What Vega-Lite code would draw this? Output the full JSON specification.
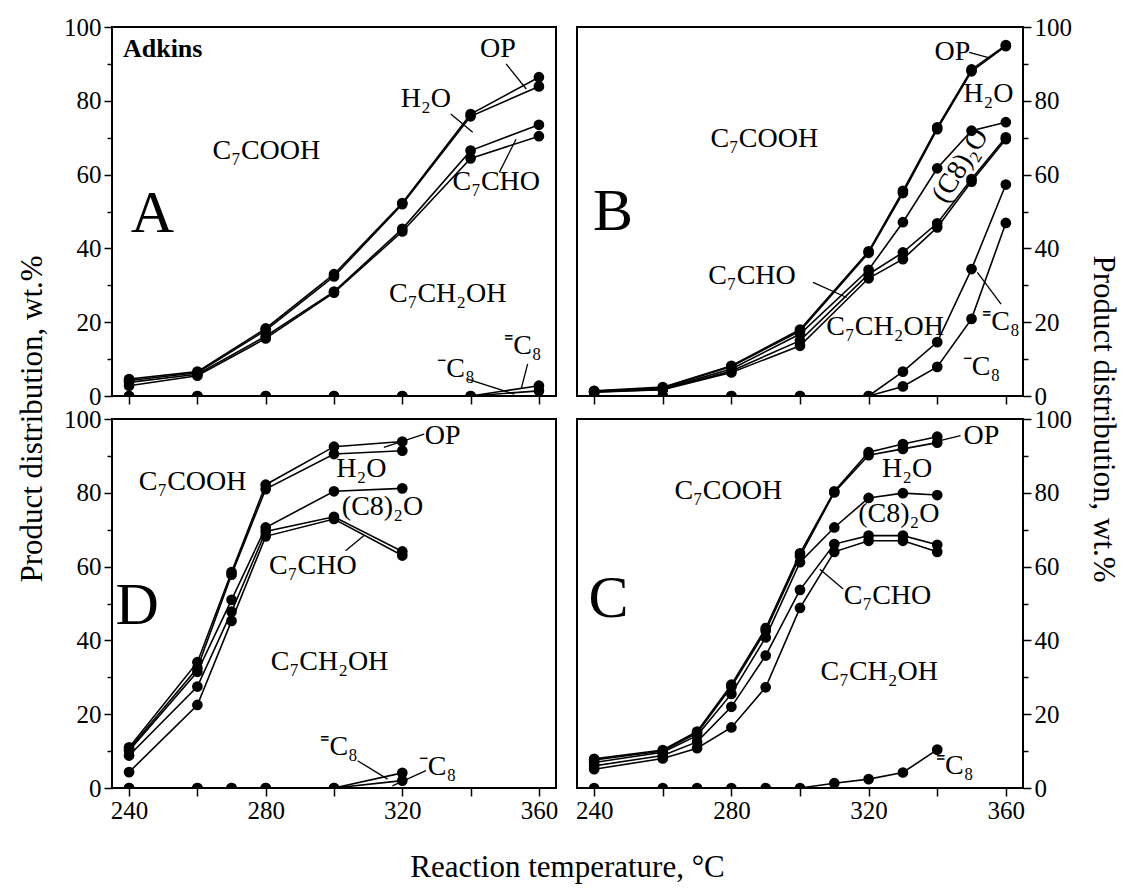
{
  "$schema": "https://vega.github.io/schema/vega-lite/v6.json",
  "padding": {"left": 16, "top": 14, "right": 5, "bottom": 5},
  "background": "white",
  "config": {
    "view": {"stroke": "black", "strokeWidth": 2},
    "font": "Liberation Serif",
    "axis": {
      "domain": false,
      "grid": false,
      "ticks": true,
      "tickColor": "black",
      "tickWidth": 1.5,
      "tickSize": 8,
      "labelFont": "Liberation Serif",
      "labelFontSize": 25,
      "labelColor": "black",
      "labelPadding": 3,
      "title": null
    },
    "title": {"font": "Liberation Serif", "fontSize": 31, "fontWeight": "normal", "color": "black"}
  },
  "datasets": {
    "lines": [
      {"p": "A", "s": "OP", "t": 240, "v": 4.6}, {"p": "A", "s": "OP", "t": 260, "v": 6.6}, {"p": "A", "s": "OP", "t": 280, "v": 18.3}, {"p": "A", "s": "OP", "t": 300, "v": 33.0}, {"p": "A", "s": "OP", "t": 320, "v": 52.3}, {"p": "A", "s": "OP", "t": 340, "v": 76.4}, {"p": "A", "s": "OP", "t": 360, "v": 86.4},
      {"p": "A", "s": "H2O", "t": 240, "v": 4.2}, {"p": "A", "s": "H2O", "t": 260, "v": 6.3}, {"p": "A", "s": "H2O", "t": 280, "v": 17.8}, {"p": "A", "s": "H2O", "t": 300, "v": 32.4}, {"p": "A", "s": "H2O", "t": 320, "v": 52.0}, {"p": "A", "s": "H2O", "t": 340, "v": 75.8}, {"p": "A", "s": "H2O", "t": 360, "v": 83.9},
      {"p": "A", "s": "C7CHO", "t": 240, "v": 3.7}, {"p": "A", "s": "C7CHO", "t": 260, "v": 5.9}, {"p": "A", "s": "C7CHO", "t": 280, "v": 16.2}, {"p": "A", "s": "C7CHO", "t": 300, "v": 28.3}, {"p": "A", "s": "C7CHO", "t": 320, "v": 45.3}, {"p": "A", "s": "C7CHO", "t": 340, "v": 66.5}, {"p": "A", "s": "C7CHO", "t": 360, "v": 73.5},
      {"p": "A", "s": "C7CH2OH", "t": 240, "v": 2.8}, {"p": "A", "s": "C7CH2OH", "t": 260, "v": 5.5}, {"p": "A", "s": "C7CH2OH", "t": 280, "v": 15.6}, {"p": "A", "s": "C7CH2OH", "t": 300, "v": 28.0}, {"p": "A", "s": "C7CH2OH", "t": 320, "v": 44.6}, {"p": "A", "s": "C7CH2OH", "t": 340, "v": 64.4}, {"p": "A", "s": "C7CH2OH", "t": 360, "v": 70.4},
      {"p": "A", "s": "=C8", "t": 240, "v": 0}, {"p": "A", "s": "=C8", "t": 260, "v": 0}, {"p": "A", "s": "=C8", "t": 280, "v": 0}, {"p": "A", "s": "=C8", "t": 300, "v": 0}, {"p": "A", "s": "=C8", "t": 320, "v": 0}, {"p": "A", "s": "=C8", "t": 340, "v": 0}, {"p": "A", "s": "=C8", "t": 360, "v": 2.8},
      {"p": "A", "s": "-C8", "t": 240, "v": 0}, {"p": "A", "s": "-C8", "t": 260, "v": 0}, {"p": "A", "s": "-C8", "t": 280, "v": 0}, {"p": "A", "s": "-C8", "t": 300, "v": 0}, {"p": "A", "s": "-C8", "t": 320, "v": 0}, {"p": "A", "s": "-C8", "t": 340, "v": 0}, {"p": "A", "s": "-C8", "t": 360, "v": 1.4},

      {"p": "B", "s": "OP", "t": 240, "v": 1.4}, {"p": "B", "s": "OP", "t": 260, "v": 2.4}, {"p": "B", "s": "OP", "t": 280, "v": 8.2}, {"p": "B", "s": "OP", "t": 300, "v": 18.0}, {"p": "B", "s": "OP", "t": 320, "v": 39.2}, {"p": "B", "s": "OP", "t": 330, "v": 55.6}, {"p": "B", "s": "OP", "t": 340, "v": 72.8}, {"p": "B", "s": "OP", "t": 350, "v": 88.5}, {"p": "B", "s": "OP", "t": 360, "v": 95.1},
      {"p": "B", "s": "H2O", "t": 240, "v": 1.3}, {"p": "B", "s": "H2O", "t": 260, "v": 2.2}, {"p": "B", "s": "H2O", "t": 280, "v": 8.0}, {"p": "B", "s": "H2O", "t": 300, "v": 17.6}, {"p": "B", "s": "H2O", "t": 320, "v": 38.8}, {"p": "B", "s": "H2O", "t": 330, "v": 55.0}, {"p": "B", "s": "H2O", "t": 340, "v": 72.3}, {"p": "B", "s": "H2O", "t": 350, "v": 88.0}, {"p": "B", "s": "H2O", "t": 360, "v": 94.8},
      {"p": "B", "s": "(C8)2O", "t": 240, "v": 1.2}, {"p": "B", "s": "(C8)2O", "t": 260, "v": 2.0}, {"p": "B", "s": "(C8)2O", "t": 280, "v": 7.3}, {"p": "B", "s": "(C8)2O", "t": 300, "v": 16.8}, {"p": "B", "s": "(C8)2O", "t": 320, "v": 34.2}, {"p": "B", "s": "(C8)2O", "t": 330, "v": 47.1}, {"p": "B", "s": "(C8)2O", "t": 340, "v": 61.7}, {"p": "B", "s": "(C8)2O", "t": 350, "v": 71.9}, {"p": "B", "s": "(C8)2O", "t": 360, "v": 74.2},
      {"p": "B", "s": "C7CHO", "t": 240, "v": 1.1}, {"p": "B", "s": "C7CHO", "t": 260, "v": 1.8}, {"p": "B", "s": "C7CHO", "t": 280, "v": 6.8}, {"p": "B", "s": "C7CHO", "t": 300, "v": 15.0}, {"p": "B", "s": "C7CHO", "t": 320, "v": 33.0}, {"p": "B", "s": "C7CHO", "t": 330, "v": 38.9}, {"p": "B", "s": "C7CHO", "t": 340, "v": 46.8}, {"p": "B", "s": "C7CHO", "t": 350, "v": 58.8}, {"p": "B", "s": "C7CHO", "t": 360, "v": 70.1},
      {"p": "B", "s": "C7CH2OH", "t": 240, "v": 1.0}, {"p": "B", "s": "C7CH2OH", "t": 260, "v": 1.7}, {"p": "B", "s": "C7CH2OH", "t": 280, "v": 6.4}, {"p": "B", "s": "C7CH2OH", "t": 300, "v": 13.6}, {"p": "B", "s": "C7CH2OH", "t": 320, "v": 31.9}, {"p": "B", "s": "C7CH2OH", "t": 330, "v": 37.1}, {"p": "B", "s": "C7CH2OH", "t": 340, "v": 45.7}, {"p": "B", "s": "C7CH2OH", "t": 350, "v": 58.1}, {"p": "B", "s": "C7CH2OH", "t": 360, "v": 69.6},
      {"p": "B", "s": "=C8", "t": 240, "v": 0}, {"p": "B", "s": "=C8", "t": 260, "v": 0}, {"p": "B", "s": "=C8", "t": 280, "v": 0}, {"p": "B", "s": "=C8", "t": 300, "v": 0}, {"p": "B", "s": "=C8", "t": 320, "v": 0}, {"p": "B", "s": "=C8", "t": 330, "v": 6.6}, {"p": "B", "s": "=C8", "t": 340, "v": 14.6}, {"p": "B", "s": "=C8", "t": 350, "v": 34.4}, {"p": "B", "s": "=C8", "t": 360, "v": 57.3},
      {"p": "B", "s": "-C8", "t": 240, "v": 0}, {"p": "B", "s": "-C8", "t": 260, "v": 0}, {"p": "B", "s": "-C8", "t": 280, "v": 0}, {"p": "B", "s": "-C8", "t": 300, "v": 0}, {"p": "B", "s": "-C8", "t": 320, "v": 0}, {"p": "B", "s": "-C8", "t": 330, "v": 2.6}, {"p": "B", "s": "-C8", "t": 340, "v": 7.9}, {"p": "B", "s": "-C8", "t": 350, "v": 20.9}, {"p": "B", "s": "-C8", "t": 360, "v": 46.9},

      {"p": "D", "s": "OP", "t": 240, "v": 11.0}, {"p": "D", "s": "OP", "t": 260, "v": 34.1}, {"p": "D", "s": "OP", "t": 270, "v": 58.5}, {"p": "D", "s": "OP", "t": 280, "v": 82.2}, {"p": "D", "s": "OP", "t": 300, "v": 92.5}, {"p": "D", "s": "OP", "t": 320, "v": 93.9},
      {"p": "D", "s": "H2O", "t": 240, "v": 10.5}, {"p": "D", "s": "H2O", "t": 260, "v": 32.5}, {"p": "D", "s": "H2O", "t": 270, "v": 57.8}, {"p": "D", "s": "H2O", "t": 280, "v": 81.0}, {"p": "D", "s": "H2O", "t": 300, "v": 90.5}, {"p": "D", "s": "H2O", "t": 320, "v": 91.4},
      {"p": "D", "s": "(C8)2O", "t": 240, "v": 10.1}, {"p": "D", "s": "(C8)2O", "t": 260, "v": 31.5}, {"p": "D", "s": "(C8)2O", "t": 270, "v": 51.0}, {"p": "D", "s": "(C8)2O", "t": 280, "v": 70.6}, {"p": "D", "s": "(C8)2O", "t": 300, "v": 80.4}, {"p": "D", "s": "(C8)2O", "t": 320, "v": 81.2},
      {"p": "D", "s": "C7CHO", "t": 240, "v": 8.8}, {"p": "D", "s": "C7CHO", "t": 260, "v": 27.5}, {"p": "D", "s": "C7CHO", "t": 270, "v": 47.8}, {"p": "D", "s": "C7CHO", "t": 280, "v": 69.5}, {"p": "D", "s": "C7CHO", "t": 300, "v": 73.5}, {"p": "D", "s": "C7CHO", "t": 320, "v": 64.1},
      {"p": "D", "s": "C7CH2OH", "t": 240, "v": 4.3}, {"p": "D", "s": "C7CH2OH", "t": 260, "v": 22.5}, {"p": "D", "s": "C7CH2OH", "t": 270, "v": 45.3}, {"p": "D", "s": "C7CH2OH", "t": 280, "v": 68.2}, {"p": "D", "s": "C7CH2OH", "t": 300, "v": 72.9}, {"p": "D", "s": "C7CH2OH", "t": 320, "v": 63.0},
      {"p": "D", "s": "=C8", "t": 240, "v": 0}, {"p": "D", "s": "=C8", "t": 260, "v": 0}, {"p": "D", "s": "=C8", "t": 270, "v": 0}, {"p": "D", "s": "=C8", "t": 280, "v": 0}, {"p": "D", "s": "=C8", "t": 300, "v": 0}, {"p": "D", "s": "=C8", "t": 320, "v": 4.1},
      {"p": "D", "s": "-C8", "t": 240, "v": 0}, {"p": "D", "s": "-C8", "t": 260, "v": 0}, {"p": "D", "s": "-C8", "t": 270, "v": 0}, {"p": "D", "s": "-C8", "t": 280, "v": 0}, {"p": "D", "s": "-C8", "t": 300, "v": 0}, {"p": "D", "s": "-C8", "t": 320, "v": 2.0},

      {"p": "C", "s": "OP", "t": 240, "v": 7.9}, {"p": "C", "s": "OP", "t": 260, "v": 10.3}, {"p": "C", "s": "OP", "t": 270, "v": 15.3}, {"p": "C", "s": "OP", "t": 280, "v": 28.0}, {"p": "C", "s": "OP", "t": 290, "v": 43.3}, {"p": "C", "s": "OP", "t": 300, "v": 63.6}, {"p": "C", "s": "OP", "t": 310, "v": 80.4}, {"p": "C", "s": "OP", "t": 320, "v": 91.0}, {"p": "C", "s": "OP", "t": 330, "v": 93.2}, {"p": "C", "s": "OP", "t": 340, "v": 95.2},
      {"p": "C", "s": "H2O", "t": 240, "v": 7.6}, {"p": "C", "s": "H2O", "t": 260, "v": 10.0}, {"p": "C", "s": "H2O", "t": 270, "v": 14.9}, {"p": "C", "s": "H2O", "t": 280, "v": 27.4}, {"p": "C", "s": "H2O", "t": 290, "v": 42.6}, {"p": "C", "s": "H2O", "t": 300, "v": 62.8}, {"p": "C", "s": "H2O", "t": 310, "v": 80.1}, {"p": "C", "s": "H2O", "t": 320, "v": 90.2}, {"p": "C", "s": "H2O", "t": 330, "v": 91.9}, {"p": "C", "s": "H2O", "t": 340, "v": 93.6},
      {"p": "C", "s": "(C8)2O", "t": 240, "v": 6.9}, {"p": "C", "s": "(C8)2O", "t": 260, "v": 9.7}, {"p": "C", "s": "(C8)2O", "t": 270, "v": 14.2}, {"p": "C", "s": "(C8)2O", "t": 280, "v": 25.5}, {"p": "C", "s": "(C8)2O", "t": 290, "v": 40.8}, {"p": "C", "s": "(C8)2O", "t": 300, "v": 61.2}, {"p": "C", "s": "(C8)2O", "t": 310, "v": 70.6}, {"p": "C", "s": "(C8)2O", "t": 320, "v": 78.6}, {"p": "C", "s": "(C8)2O", "t": 330, "v": 79.9}, {"p": "C", "s": "(C8)2O", "t": 340, "v": 79.4},
      {"p": "C", "s": "C7CHO", "t": 240, "v": 6.0}, {"p": "C", "s": "C7CHO", "t": 260, "v": 8.8}, {"p": "C", "s": "C7CHO", "t": 270, "v": 12.5}, {"p": "C", "s": "C7CHO", "t": 280, "v": 22.0}, {"p": "C", "s": "C7CHO", "t": 290, "v": 35.9}, {"p": "C", "s": "C7CHO", "t": 300, "v": 53.7}, {"p": "C", "s": "C7CHO", "t": 310, "v": 66.1}, {"p": "C", "s": "C7CHO", "t": 320, "v": 68.4}, {"p": "C", "s": "C7CHO", "t": 330, "v": 68.4}, {"p": "C", "s": "C7CHO", "t": 340, "v": 65.9},
      {"p": "C", "s": "C7CH2OH", "t": 240, "v": 5.1}, {"p": "C", "s": "C7CH2OH", "t": 260, "v": 8.0}, {"p": "C", "s": "C7CH2OH", "t": 270, "v": 10.8}, {"p": "C", "s": "C7CH2OH", "t": 280, "v": 16.4}, {"p": "C", "s": "C7CH2OH", "t": 290, "v": 27.3}, {"p": "C", "s": "C7CH2OH", "t": 300, "v": 48.8}, {"p": "C", "s": "C7CH2OH", "t": 310, "v": 64.0}, {"p": "C", "s": "C7CH2OH", "t": 320, "v": 67.0}, {"p": "C", "s": "C7CH2OH", "t": 330, "v": 67.0}, {"p": "C", "s": "C7CH2OH", "t": 340, "v": 64.0},
      {"p": "C", "s": "=C8", "t": 240, "v": 0}, {"p": "C", "s": "=C8", "t": 260, "v": 0}, {"p": "C", "s": "=C8", "t": 270, "v": 0}, {"p": "C", "s": "=C8", "t": 280, "v": 0}, {"p": "C", "s": "=C8", "t": 290, "v": 0}, {"p": "C", "s": "=C8", "t": 300, "v": 0}, {"p": "C", "s": "=C8", "t": 310, "v": 1.3}, {"p": "C", "s": "=C8", "t": 320, "v": 2.4}, {"p": "C", "s": "=C8", "t": 330, "v": 4.2}, {"p": "C", "s": "=C8", "t": 340, "v": 10.4}
    ],
    "labels": [
      {"p": "A", "k": "tag", "txt": "Adkins", "t": 238.2, "v": 94},
      {"p": "A", "k": "big", "txt": "A", "t": 246.8, "v": 49.3},
      {"p": "A", "k": "name", "txt": "C₇COOH", "t": 280.2, "v": 66.4},
      {"p": "A", "k": "name", "txt": "H₂O", "t": 326.9, "v": 80.5},
      {"p": "A", "k": "name", "txt": "OP", "t": 348, "v": 94},
      {"p": "A", "k": "name", "txt": "C₇CHO", "t": 347.5, "v": 58},
      {"p": "A", "k": "name", "txt": "C₇CH₂OH", "t": 333.3, "v": 27.6},
      {"p": "A", "k": "name", "txt": "⁼C₈", "t": 355.3, "v": 13.6},
      {"p": "A", "k": "name", "txt": "⁻C₈", "t": 335.7, "v": 7.3},
      {"p": "B", "k": "big", "txt": "B", "t": 245.5, "v": 49.8},
      {"p": "B", "k": "name", "txt": "C₇COOH", "t": 289.6, "v": 69.6},
      {"p": "B", "k": "name", "txt": "OP", "t": 344.4, "v": 93.2},
      {"p": "B", "k": "name", "txt": "H₂O", "t": 354.9, "v": 81.8},
      {"p": "B", "k": "rot", "txt": "(C8)₂O", "t": 346.8, "v": 62.4},
      {"p": "B", "k": "name", "txt": "C₇CHO", "t": 286, "v": 32.5},
      {"p": "B", "k": "name", "txt": "C₇CH₂OH", "t": 324.8, "v": 18.7},
      {"p": "B", "k": "name", "txt": "⁼C₈", "t": 358.6, "v": 20},
      {"p": "B", "k": "name", "txt": "⁻C₈", "t": 352.9, "v": 7.8},
      {"p": "D", "k": "big", "txt": "D", "t": 242.4, "v": 49.4},
      {"p": "D", "k": "name", "txt": "C₇COOH", "t": 258.6, "v": 82.8},
      {"p": "D", "k": "name", "txt": "OP", "t": 331.8, "v": 95.5},
      {"p": "D", "k": "name", "txt": "H₂O", "t": 308, "v": 86.4},
      {"p": "D", "k": "name", "txt": "(C8)₂O", "t": 314.2, "v": 76.1},
      {"p": "D", "k": "name", "txt": "C₇CHO", "t": 293.8, "v": 60.2},
      {"p": "D", "k": "name", "txt": "C₇CH₂OH", "t": 298.7, "v": 34.1},
      {"p": "D", "k": "name", "txt": "⁼C₈", "t": 301.5, "v": 11},
      {"p": "D", "k": "name", "txt": "⁻C₈", "t": 330.3, "v": 5.6},
      {"p": "C", "k": "big", "txt": "C", "t": 244.2, "v": 51.2},
      {"p": "C", "k": "name", "txt": "C₇COOH", "t": 279.1, "v": 80.6},
      {"p": "C", "k": "name", "txt": "OP", "t": 352.9, "v": 95.5},
      {"p": "C", "k": "name", "txt": "H₂O", "t": 331.2, "v": 86.4},
      {"p": "C", "k": "name", "txt": "(C8)₂O", "t": 328.8, "v": 74.3},
      {"p": "C", "k": "name", "txt": "C₇CHO", "t": 325.5, "v": 52.1},
      {"p": "C", "k": "name", "txt": "C₇CH₂OH", "t": 323.1, "v": 31.4},
      {"p": "C", "k": "name", "txt": "⁼C₈", "t": 345.1, "v": 6.0}
    ],
    "leaders": [
      {"p": "A", "t": 350.4, "v": 90, "t2": 356.3, "v2": 83.2},
      {"p": "A", "t": 334.2, "v": 76.4, "t2": 340.6, "v2": 71.5},
      {"p": "A", "t": 353.3, "v": 69.6, "t2": 348.4, "v2": 60.6},
      {"p": "A", "t": 339.1, "v": 4.6, "t2": 352.8, "v2": 0.5},
      {"p": "A", "t": 356.7, "v": 8.7, "t2": 354.8, "v2": 1.9},
      {"p": "B", "t": 349.3, "v": 93.1, "t2": 354.7, "v2": 91.8},
      {"p": "B", "t": 303.8, "v": 30.8, "t2": 313.6, "v2": 26.7},
      {"p": "B", "t": 358.6, "v": 24.9, "t2": 351.7, "v2": 33.5},
      {"p": "D", "t": 326.4, "v": 95.9, "t2": 314.6, "v2": 92.3},
      {"p": "D", "t": 303.4, "v": 64.3, "t2": 308.8, "v2": 68.4},
      {"p": "D", "t": 306.9, "v": 7.4, "t2": 315.7, "v2": 2.4},
      {"p": "D", "t": 326.9, "v": 4.7, "t2": 317.1, "v2": 0.6},
      {"p": "C", "t": 346.8, "v": 95.5, "t2": 340.5, "v2": 94.1},
      {"p": "C", "t": 312.6, "v": 53.9, "t2": 305.8, "v2": 59.3}
    ]
  },
  "title": {"text": "Reaction temperature, °C", "orient": "bottom", "anchor": "middle", "offset": 29},
  "spacing": 15,
  "hconcat": [
    {
      "title": {"text": "Product distribution, wt.%", "orient": "left", "anchor": "middle", "offset": 14},
      "spacing": 23,
      "bounds": "flush",
      "vconcat": [
        {
          "width": 444, "height": 369,
          "encoding": {
            "x": {"field": "t", "type": "quantitative", "scale": {"domain": [235, 365], "nice": false, "zero": false},
                  "axis": {"values": [240, 260, 280, 300, 320, 340, 360], "labels": false}},
            "y": {"field": "v", "type": "quantitative", "scale": {"domain": [0, 100], "nice": false},
                  "axis": {"orient": "left", "values": [0, 10, 20, 30, 40, 50, 60, 70, 80, 90, 100],
                           "tickSize": {"condition": {"test": "datum.value % 20 === 0", "value": 8}, "value": 5},
                           "labelExpr": "datum.value % 20 === 0 ? datum.label : ''"}}
          },
          "layer": [
            {"data": {"name": "lines"}, "transform": [{"filter": "datum.p === 'A'"}],
             "mark": {"type": "line", "color": "black", "strokeWidth": 1.6, "clip": true},
             "encoding": {"detail": {"field": "s"}}},
            {"data": {"name": "lines"}, "transform": [{"filter": "datum.p === 'A'"}],
             "mark": {"type": "circle", "color": "black", "opacity": 1, "size": 115, "clip": true}},
            {"data": {"name": "leaders"}, "transform": [{"filter": "datum.p === 'A'"}],
             "mark": {"type": "rule", "color": "black", "strokeWidth": 1.3},
             "encoding": {"x2": {"field": "t2"}, "y2": {"field": "v2"}}},
            {"data": {"name": "labels"}, "transform": [{"filter": "datum.p === 'A' && datum.k === 'name'"}],
             "mark": {"type": "text", "font": "Liberation Serif", "fontSize": 28, "color": "black", "align": "center", "baseline": "middle"},
             "encoding": {"text": {"field": "txt"}}},
            {"data": {"name": "labels"}, "transform": [{"filter": "datum.p === 'A' && datum.k === 'big'"}],
             "mark": {"type": "text", "font": "Liberation Serif", "fontSize": 60, "color": "black", "align": "center", "baseline": "middle"},
             "encoding": {"text": {"field": "txt"}}},
            {"data": {"name": "labels"}, "transform": [{"filter": "datum.p === 'A' && datum.k === 'tag'"}],
             "mark": {"type": "text", "font": "Liberation Serif", "fontSize": 26, "fontWeight": "bold", "color": "black", "align": "left", "baseline": "middle"},
             "encoding": {"text": {"field": "txt"}}}
          ]
        },
        {
          "width": 444, "height": 369,
          "encoding": {
            "x": {"field": "t", "type": "quantitative", "scale": {"domain": [235, 365], "nice": false, "zero": false},
                  "axis": {"values": [240, 260, 280, 300, 320, 340, 360], "labelExpr": "datum.value % 40 === 0 ? datum.label : ''", "labelPadding": 2}},
            "y": {"field": "v", "type": "quantitative", "scale": {"domain": [0, 100], "nice": false},
                  "axis": {"orient": "left", "values": [0, 10, 20, 30, 40, 50, 60, 70, 80, 90, 100],
                           "tickSize": {"condition": {"test": "datum.value % 20 === 0", "value": 8}, "value": 5},
                           "labelExpr": "datum.value % 20 === 0 ? datum.label : ''"}}
          },
          "layer": [
            {"data": {"name": "lines"}, "transform": [{"filter": "datum.p === 'D'"}],
             "mark": {"type": "line", "color": "black", "strokeWidth": 1.6, "clip": true},
             "encoding": {"detail": {"field": "s"}}},
            {"data": {"name": "lines"}, "transform": [{"filter": "datum.p === 'D'"}],
             "mark": {"type": "circle", "color": "black", "opacity": 1, "size": 115, "clip": true}},
            {"data": {"name": "leaders"}, "transform": [{"filter": "datum.p === 'D'"}],
             "mark": {"type": "rule", "color": "black", "strokeWidth": 1.3},
             "encoding": {"x2": {"field": "t2"}, "y2": {"field": "v2"}}},
            {"data": {"name": "labels"}, "transform": [{"filter": "datum.p === 'D' && datum.k === 'name'"}],
             "mark": {"type": "text", "font": "Liberation Serif", "fontSize": 28, "color": "black", "align": "center", "baseline": "middle"},
             "encoding": {"text": {"field": "txt"}}},
            {"data": {"name": "labels"}, "transform": [{"filter": "datum.p === 'D' && datum.k === 'big'"}],
             "mark": {"type": "text", "font": "Liberation Serif", "fontSize": 60, "color": "black", "align": "center", "baseline": "middle"},
             "encoding": {"text": {"field": "txt"}}}
          ]
        }
      ]
    },
    {
      "title": {"text": "Product distribution, wt.%", "orient": "right", "anchor": "middle", "offset": 14},
      "spacing": 23,
      "bounds": "flush",
      "vconcat": [
        {
          "width": 446, "height": 369,
          "encoding": {
            "x": {"field": "t", "type": "quantitative", "scale": {"domain": [235, 365], "nice": false, "zero": false},
                  "axis": {"values": [240, 260, 280, 300, 320, 340, 360], "labels": false}},
            "y": {"field": "v", "type": "quantitative", "scale": {"domain": [0, 100], "nice": false},
                  "axis": {"orient": "right", "values": [0, 10, 20, 30, 40, 50, 60, 70, 80, 90, 100],
                           "tickSize": {"condition": {"test": "datum.value % 20 === 0", "value": 8}, "value": 5},
                           "labelExpr": "datum.value % 20 === 0 ? datum.label : ''"}}
          },
          "layer": [
            {"data": {"name": "lines"}, "transform": [{"filter": "datum.p === 'B'"}],
             "mark": {"type": "line", "color": "black", "strokeWidth": 1.6, "clip": true},
             "encoding": {"detail": {"field": "s"}}},
            {"data": {"name": "lines"}, "transform": [{"filter": "datum.p === 'B'"}],
             "mark": {"type": "circle", "color": "black", "opacity": 1, "size": 115, "clip": true}},
            {"data": {"name": "leaders"}, "transform": [{"filter": "datum.p === 'B'"}],
             "mark": {"type": "rule", "color": "black", "strokeWidth": 1.3},
             "encoding": {"x2": {"field": "t2"}, "y2": {"field": "v2"}}},
            {"data": {"name": "labels"}, "transform": [{"filter": "datum.p === 'B' && datum.k === 'name'"}],
             "mark": {"type": "text", "font": "Liberation Serif", "fontSize": 28, "color": "black", "align": "center", "baseline": "middle"},
             "encoding": {"text": {"field": "txt"}}},
            {"data": {"name": "labels"}, "transform": [{"filter": "datum.p === 'B' && datum.k === 'rot'"}],
             "mark": {"type": "text", "font": "Liberation Serif", "fontSize": 28, "color": "black", "align": "center", "baseline": "middle", "angle": -58},
             "encoding": {"text": {"field": "txt"}}},
            {"data": {"name": "labels"}, "transform": [{"filter": "datum.p === 'B' && datum.k === 'big'"}],
             "mark": {"type": "text", "font": "Liberation Serif", "fontSize": 60, "color": "black", "align": "center", "baseline": "middle"},
             "encoding": {"text": {"field": "txt"}}}
          ]
        },
        {
          "width": 446, "height": 369,
          "encoding": {
            "x": {"field": "t", "type": "quantitative", "scale": {"domain": [235, 365], "nice": false, "zero": false},
                  "axis": {"values": [240, 260, 280, 300, 320, 340, 360], "labelExpr": "datum.value % 40 === 0 ? datum.label : ''", "labelPadding": 2}},
            "y": {"field": "v", "type": "quantitative", "scale": {"domain": [0, 100], "nice": false},
                  "axis": {"orient": "right", "values": [0, 10, 20, 30, 40, 50, 60, 70, 80, 90, 100],
                           "tickSize": {"condition": {"test": "datum.value % 20 === 0", "value": 8}, "value": 5},
                           "labelExpr": "datum.value % 20 === 0 ? datum.label : ''"}}
          },
          "layer": [
            {"data": {"name": "lines"}, "transform": [{"filter": "datum.p === 'C'"}],
             "mark": {"type": "line", "color": "black", "strokeWidth": 1.6, "clip": true},
             "encoding": {"detail": {"field": "s"}}},
            {"data": {"name": "lines"}, "transform": [{"filter": "datum.p === 'C'"}],
             "mark": {"type": "circle", "color": "black", "opacity": 1, "size": 115, "clip": true}},
            {"data": {"name": "leaders"}, "transform": [{"filter": "datum.p === 'C'"}],
             "mark": {"type": "rule", "color": "black", "strokeWidth": 1.3},
             "encoding": {"x2": {"field": "t2"}, "y2": {"field": "v2"}}},
            {"data": {"name": "labels"}, "transform": [{"filter": "datum.p === 'C' && datum.k === 'name'"}],
             "mark": {"type": "text", "font": "Liberation Serif", "fontSize": 28, "color": "black", "align": "center", "baseline": "middle"},
             "encoding": {"text": {"field": "txt"}}},
            {"data": {"name": "labels"}, "transform": [{"filter": "datum.p === 'C' && datum.k === 'big'"}],
             "mark": {"type": "text", "font": "Liberation Serif", "fontSize": 60, "color": "black", "align": "center", "baseline": "middle"},
             "encoding": {"text": {"field": "txt"}}}
          ]
        }
      ]
    }
  ]
}
